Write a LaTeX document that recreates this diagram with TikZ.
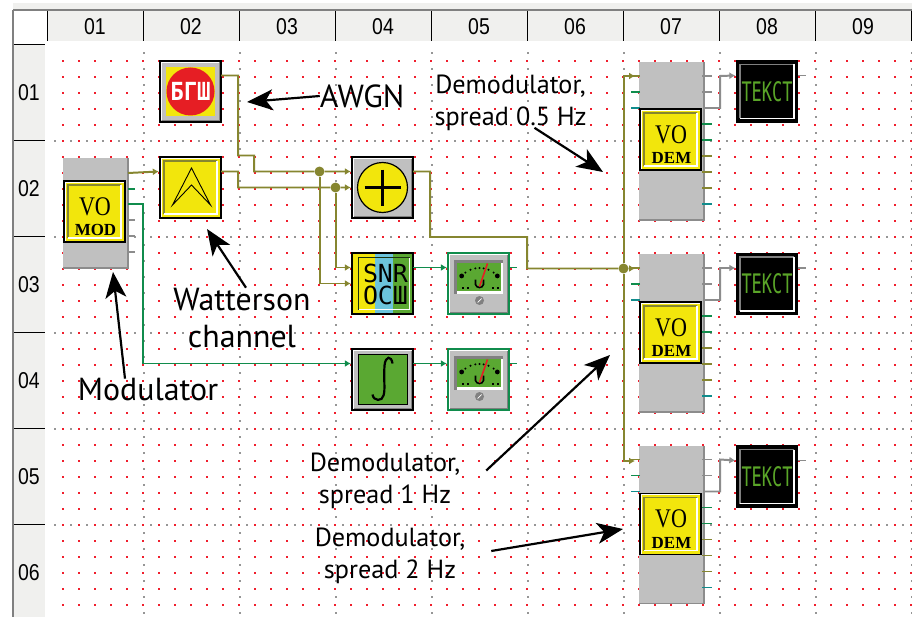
\documentclass[tikz,border=0pt]{standalone}
\usepackage{xcolor}
\usepackage{fontspec}
\usepackage{tikz}
\usetikzlibrary{arrows.meta, positioning}
\setmainfont{PT Sans}
\newfontfamily\headfont{Liberation Sans}
\newfontfamily\pixfont{Liberation Serif}
\newfontfamily\monofont{DejaVu Sans Mono}
\definecolor{wireolive}{RGB}{134,134,48}
\definecolor{wiregreen}{RGB}{16,140,76}
\definecolor{wireteal}{RGB}{16,140,140}
\definecolor{wiregray}{RGB}{140,140,140}
\definecolor{panelgray}{RGB}{192,192,192}
\definecolor{voyellow}{RGB}{242,230,12}
\definecolor{stopred}{RGB}{230,30,36}
\definecolor{dotred}{RGB}{240,30,45}
\definecolor{gridgray}{RGB}{150,150,150}
\definecolor{metergreen}{RGB}{90,168,50}
\definecolor{snrblue}{RGB}{108,196,220}
\definecolor{headgray}{RGB}{240,240,238}
\definecolor{textgreen}{RGB}{90,165,40}
\newcommand{\yellowbevel}{
    \draw[white, line width=1pt] (-29.5,29.5) -- (-29.5,-29.5) -- (29.5,-29.5);
    \draw[wireolive, line width=1.6pt] (-26.5,26.5) -- (-26.5,-26.5) -- (26.5,-26.5);
    \draw[white, line width=1.2pt] (26.5,-26.5) -- (26.5,26.5) -- (-26.5,26.5);
}
\newcommand{\graybevel}{
    \draw[white, line width=1.3pt] (-29,29) -- (-29,-29) -- (29,-29);
    \draw[gray, line width=1.3pt] (29,-29) -- (29,29) -- (-29,29);
}
\newcommand{\meterface}{
    \graybevel
    \fill[gray] (-25,-24) rectangle (24,10);
    \fill[white] (-22,-21) rectangle (24,10);
    \fill[metergreen] (-22,-21) rectangle (22,7);
    \foreach \ang in {-48,48}
        \fill[black] ({1+24*sin(\ang)},{8.5-24*cos(\ang)}) circle (2.4);
    \foreach \ang in {-36,-22,-10,0,10,22,36}
        \fill[black] ({1+24*sin(\ang)},{8.5-24*cos(\ang)}) circle (1.1);
    \foreach \m in {-17,-12,13,18}
        \fill[black] (\m,3) rectangle (\m+2,5);
    \draw[black, line width=1.6pt] (-3,-4) -- (-3,1) .. controls (-2,5) and (4,5) .. (5,1) -- (5,-4);
    \draw[stopred, line width=1.6pt] (1,3) -- (9,-20);
    \fill[gray] (1,17) circle (4.5);
    \draw[white, line width=.7pt] (-1,19) -- (3,15);
}
\tikzset{
>={Latex[length=6pt,width=7pt]},
node distance=96bp, % one cell of the sheet
icon/.style={draw=black, line width=1.4pt, minimum size=61.6pt, inner sep=0pt, outer sep=0pt},
facein/.style={path picture={\begin{scope}[shift={(path picture bounding box.center)}]#1\end{scope}}},
voblock/.style={icon, fill=voyellow, facein={\yellowbevel}},
adder/.style={icon, fill=panelgray, facein={\graybevel
    \draw[black, fill=voyellow, line width=1.2pt] (0,0) circle (25);
    \draw[black, line width=4pt] (-18,0) -- (18,0) (0,-18) -- (0,18);}},
noisebox/.style={icon, fill=panelgray, facein={\graybevel
    \fill[voyellow] (-24.5,-24.5) rectangle (24.5,24.5);
    \fill[stopred] (0,0) circle (24);}},
channel/.style={icon, fill=voyellow, facein={\yellowbevel
    \draw[black, line width=.9pt] (-18,17.5) -- (1,-19.5) -- (20,17.5) -- (1,-2.5) -- cycle;}},
snrbox/.style={icon, facein={
    \fill[voyellow] (-32,-32) rectangle (-7.5,32);
    \fill[snrblue] (-7.5,-32) rectangle (10.5,32);
    \fill[metergreen] (10.5,-32) rectangle (32,32);
    \draw[black!70!metergreen, line width=1.4pt] (-24,26) -- (-24,-26) -- (27,-26);
    \draw[white, line width=1.4pt] (27,-26) -- (27,26) -- (-24,26);}},
meter/.style={icon, draw=wiregreen, fill=panelgray, facein={\meterface}},
intbox/.style={icon, fill=panelgray, facein={\graybevel
    \draw[black, fill=metergreen, line width=1.6pt] (-24,-25) rectangle (25,25);
    \draw[black, line width=2.2pt] (10,-16) .. controls (9,-24) and (3,-24) .. (2,-14)
        .. controls (1,0) and (3,10) .. (1,16) .. controls (0,22) and (-9,22) .. (-10,15);}},
textbox/.style={icon, fill=black, facein={
    \draw[gray, line width=1.3pt] (-27,27) -- (-27,-27) -- (27,-27);
    \draw[white, line width=1.3pt] (27,-27) -- (27,27) -- (-27,27);}},
rack/.style={fill=panelgray, minimum width=65bp, inner sep=0pt, outer sep=0pt},
rackedge/.style={draw=wiregray, line width=1.2pt},
wireo/.style={draw=wireolive, line width=2pt},
wireg/.style={draw=wiregreen, line width=1.8pt},
wirek/.style={draw=wiregray, line width=2pt},
stub/.style={line width=1.8pt},
junction/.style={circle, fill=wireolive, minimum size=10pt, inner sep=0pt},
votext/.style={font=\pixfont\fontsize{27}{27}\selectfont, inner sep=0pt},
kindtext/.style={font=\pixfont\bfseries\fontsize{17}{17}\selectfont, inner sep=0pt},
snrtext/.style={font=\monofont\fontsize{25}{25}\selectfont, inner sep=0pt},
shown/.style={text=textgreen, font=\monofont\fontsize{27}{27}\selectfont, inner sep=0pt},
note/.style={font=\fontsize{32}{38}\selectfont, align=center, inner sep=0pt, outer sep=0pt},
demnote/.style={font=\fontsize{26.3}{32}\selectfont, align=center, inner sep=0pt, outer sep=0pt},
pointer/.style={-{Stealth[length=26pt,width=21pt,inset=7pt]}, line width=2.2pt},
hdr/.style={font=\headfont\fontsize{23}{23}\selectfont, inner sep=0pt},
}
\newcommand{\narrow}[1]{\scalebox{.85}[1]{#1}}

\begin{document}
\begin{tikzpicture}[x=1bp, y=-1bp]
    \useasboundingbox (0,0) rectangle (912,617);
    \fill[white] (0,0) rectangle (912,617);

    % sheet dots
    \foreach \i in {0,...,53} {
        \foreach \j in {0,...,34} {
            \fill[dotred] (62+16*\i,60+16*\j) rectangle +(2,2);
        }
    }
    \foreach \k in {1,...,9} {
        \foreach \j in {0,...,35} {
            \fill[gridgray] (46.5+96*\k,52+16*\j) rectangle +(2,2);
        }
    }
    \foreach \k in {1,...,5} {
        \foreach \i in {0,...,53} {
            \fill[gridgray] (54+16*\i,44+96*\k) rectangle +(2,2);
        }
    }

    % headers
    \fill[headgray] (13,3) rectangle (912,9);
    \fill[headgray] (47,11) rectangle (912,41);
    \fill[headgray] (14,45) rectangle (45,617);
    \fill[gray] (13,9) rectangle (912,11);
    \fill[gray] (12,10) rectangle (14,617);
    \foreach \k in {0,...,9}
        \draw[black, line width=1.3pt] (47.5+96*\k,11) -- (47.5+96*\k,41);
    \foreach \k in {0,...,5}
        \draw[black, line width=1.6pt] (14,44.5+96*\k) -- (44.5,44.5+96*\k);
    \foreach \c [count=\i from 0] in {01,02,03,04,05,06,07,08,09}
        \node[hdr] (col\c) at (95+96*\i,27) {\narrow{\c}};
    \foreach \c [count=\i from 0] in {01,02,03,04,05,06}
        \node[hdr] (row\c) at (29,93+96*\i) {\narrow{\c}};

    % racks behind the VO blocks
    \node[rack, minimum height=110bp] (modr) at (95.5,213) {};
    \node[rack, minimum height=158bp] (demAr) at (671.5,141) {};
    \node[rack, minimum height=158bp] (demBr) at (671.5,333) {};
    \node[rack, minimum height=158bp] (demCr) at (671.5,524.5) {};
    \foreach \rk in {modr,demAr,demBr,demCr}
        \draw[rackedge] (\rk.north east) -- (\rk.south east) -- (\rk.south west);

    % ports
    \foreach \dy/\c in {24/wiregreen,-7/wiregray,-23/wiregray,-39/wiregray}
        \draw[stub,\c] ([yshift=\dy bp]modr.east) -- ++(7,0);
    \foreach \rk in {demAr,demBr,demCr} {
        \foreach \dy/\c in {65/wiregray,49/wiregray,17/wiregreen,1/wiregreen,-15/wireolive,-31/wireolive,-47/wireolive,-63/wireteal}
            \draw[stub,\c] ([yshift=\dy bp]\rk.east) ++(-2,0) -- ++(10,0);
        \foreach \dy/\c in {65/wireolive,49/wiregreen,33/wireteal}
            \draw[stub,\c] ([yshift=\dy bp]\rk.west) ++(1,0) -- ++(-9,0);
    }

    % blocks
    \node[voblock] (modu) at (94.5,211.5) {};
    \node[voblock] (demA) at (670.5,139.5) {};
    \node[voblock] (demB) at (670.5,332.5) {};
    \node[voblock] (demC) at (670.5,524) {};
    \node[noisebox] (noise) at (190.5,91.5) {};
    \node[channel, below of=noise] (chan) {};
    \node[adder, right of=chan, xshift=96bp] (sum) {};
    \node[snrbox, below of=sum] (snr) {};
    \node[intbox, below of=snr] (intg) {};
    \node[meter, right of=snr] (meterA) {};
    \node[meter, right of=intg] (meterB) {};
    \node[textbox] (txtA) at (767,91.5) {};
    \node[textbox] (txtB) at (767,284) {};
    \node[textbox] (txtC) at (767,476.5) {};

    % block texts
    \foreach \bl/\kind in {modu/MOD,demA/DEM,demB/DEM,demC/DEM} {
        \node[votext] (\bl vo) at ([shift={(.5pt,5pt)}]\bl.center) {\scalebox{.82}[1]{VO}};
        \node[kindtext] (\bl kind) at ([shift={(1pt,-19pt)}]\bl.center) {\kind};
    }
    \node[snrtext, text=white, font=\monofont\bfseries\fontsize{25}{25}\selectfont] (noisetxt) at (noise.center) {\scalebox{.9}[1]{БГШ}};
    \node[snrtext] (snrtop) at ([shift={(3pt,10pt)}]snr.center) {SNR};
    \node[snrtext] (snrlow) at ([shift={(3pt,-12pt)}]snr.center) {ОСШ};
    \foreach \tx in {txtA,txtB,txtC}
        \node[shown] (\tx word) at (\tx.center) {\scalebox{.63}[1]{ТЕКСТ}};

    % junctions
    \node[junction] (j1) at (319.5,171.5) {};
    \node[junction] (j2) at (335.5,187.5) {};
    \node[junction] (j3) at (623.5,268.5) {};

    % olive wires
    \draw[wireo, ->] ([yshift=40bp]modr.east) -- ([yshift=16bp,xshift=-1bp]chan.west);
    \draw[wireo, ->] ([yshift=16bp]noise.east) -- ++(17,0) -- ++(0,80) -- ++(16,0) -- ++(0,16) -- (j1) -- ([yshift=16bp,xshift=-1bp]sum.west);
    \draw[wireo, ->] ([yshift=16bp]chan.east) -- ++(17,0) -- ++(0,16) -- (j2) -- ([xshift=-1bp]sum.west);
    \draw[wireo, ->] (j1) |- ([xshift=-1bp]snr.west);
    \draw[wireo, ->] (j2) |- ([yshift=16bp,xshift=-1bp]snr.west);
    \draw[wireo] ([yshift=16bp]sum.east) -- ++(17,0) -- ++(0,65.5) -- ++(97,0) -- ++(0,31.5) -- (j3);
    \draw[wireo, ->] (j3) |- ([shift={(-4bp,65bp)}]demAr.west);
    \draw[wireo, ->] (j3) -- ([shift={(-4bp,64.5bp)}]demBr.west);
    \draw[wireo, ->] (j3) |- ([shift={(-4bp,63.5bp)}]demCr.west);

    % green wires
    \draw[wireg, ->] ([yshift=9bp]modr.east) -- ++(15,0) |- ([yshift=16bp,xshift=-1bp]intg.west);
    \draw[wireg, ->] ([yshift=16bp]snr.east) -- ([yshift=16bp,xshift=-1bp]meterA.west);
    \draw[wireg, ->] ([yshift=16bp]intg.east) -- ([yshift=16bp,xshift=-1bp]meterB.west);
    \draw[wireg] ([yshift=16bp]meterA.east) -- ++(8,0);
    \draw[wireg] ([yshift=16bp]meterB.east) -- ++(8,0);

    % gray wires
    \foreach \rk/\tx in {demAr/txtA,demBr/txtB,demCr/txtC} {
        \draw[wirek, ->] ([yshift=33bp]\rk.east) -- ++(16,0) -- ++(0,-32) -- ([yshift=16bp,xshift=-1bp]\tx.west);
        \draw[wirek] ([yshift=16bp]\tx.east) -- ++(8,0);
    }

    % notes
    \node[note] (awgn) at (362,96) {AWGN};
    \node[note] (watt) at (242,318) {Watterson\\channel};
    \node[note] (modl) at (148,390) {Modulator};
    \node[demnote] (noteA) at (510.5,103) {Demodulator,\\spread 0.5 Hz};
    \node[demnote] (noteB) at (385,480.5) {Demodulator,\\spread 1 Hz};
    \node[demnote] (noteC) at (390,556) {Demodulator,\\spread 2 Hz};
    \coordinate (tipawgn) at (247,102);
    \coordinate (tipwatt) at (207,229);
    \coordinate (tipmodl) at (113,272);
    \coordinate (tipA) at (603,172);
    \coordinate (tipB) at (610,355);
    \coordinate (tipC) at (623,529);
    \draw[pointer] (awgn.west) -- (tipawgn);
    \draw[pointer] ([xshift=4bp]watt.north) -- (tipwatt);
    \draw[pointer] ([xshift=-23bp]modl.north) -- (tipmodl);
    \draw[pointer] ([shift={(24bp,3bp)}]noteA.south) -- (tipA);
    \draw[pointer] ([shift={(26bp,10bp)}]noteB.east) -- (tipB);
    \draw[pointer] ([shift={(26bp,5bp)}]noteC.east) -- (tipC);
\end{tikzpicture}
\end{document}
